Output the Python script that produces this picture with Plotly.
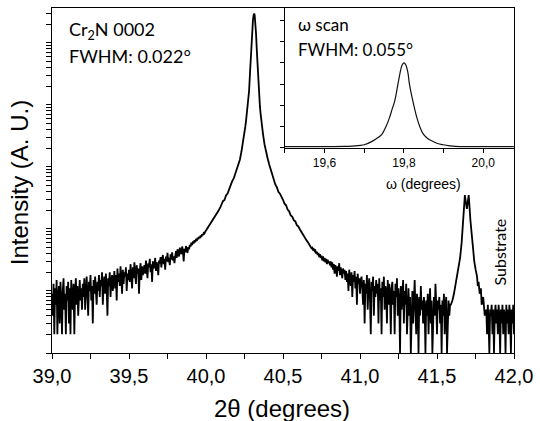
import numpy as np
import plotly.graph_objects as go

# ---- 2theta/omega scan (counts) ----
# noisy parts are on a 0.005 deg step, peaks listed point by point
step = 0.005

left_start = 39.00  # 39.00 .. 40.095
counts_left = [
    9, 4, 13, 2, 11, 6, 15, 2, 8, 12, 3, 14, 7, 2, 10, 16, 5, 9, 2, 12,
    7, 14, 3, 11, 2, 15, 8, 5, 13, 2, 10, 16, 6, 12, 4, 9, 15, 7, 11, 5,
    13, 8, 16, 5, 11, 17, 9, 4, 14, 10, 18, 7, 12, 3, 15, 9, 17, 11, 6, 14,
    10, 18, 8, 15, 12, 20, 6, 13, 17, 9, 19, 11, 4, 16, 12, 20, 8, 14, 18, 10,
    15, 21, 11, 18, 7, 23, 14, 19, 12, 25, 16, 9, 22, 13, 20, 17, 24, 10, 19, 15,
    22, 14, 27, 18, 11, 24, 16, 29, 20, 13, 26, 19, 23, 9, 21, 28, 15, 25, 18, 22,
    26, 19, 31, 22, 16, 28, 24, 33, 20, 27, 14, 30, 23, 26, 34, 21, 29, 25, 18, 31,
    28, 35, 24, 32, 38, 27, 33, 22, 36, 30, 41, 29, 34, 26, 39, 32, 42, 31, 36, 28,
    38, 44, 34, 47, 40, 36, 50, 43, 39, 52, 45, 30, 48, 42, 53, 46, 41, 51, 47, 55,
    52, 60, 55, 63, 58, 66, 61, 69, 64, 72, 68, 75, 71, 78, 74, 82, 79, 86, 84, 90,
    94, 98, 101, 106, 110, 116, 121, 127, 133, 140, 146, 154, 160, 170, 176, 186, 194, 205, 214, 228,
]

peak_tt = [40.10, 40.11, 40.12, 40.13, 40.14, 40.15, 40.16, 40.17, 40.18, 40.19,
           40.20, 40.21, 40.22, 40.23, 40.24, 40.245, 40.25, 40.255, 40.26, 40.265,
           40.27, 40.275, 40.28, 40.285, 40.29, 40.295, 40.30, 40.305, 40.31, 40.313,
           40.316, 40.32, 40.325, 40.33, 40.335, 40.34, 40.345, 40.35, 40.355, 40.36,
           40.365, 40.37, 40.38, 40.39, 40.40, 40.41, 40.42, 40.43, 40.44, 40.45,
           40.46, 40.47, 40.48, 40.49, 40.50, 40.51, 40.52, 40.53, 40.54, 40.55,
           40.56, 40.57, 40.58, 40.59, 40.60]
peak_counts = [245, 280, 292, 345, 372, 440, 490, 590, 650, 790,
               900, 1060, 1300, 1750, 2400, 2900, 3600, 4400, 5500, 7000,
               9000, 11700, 17000, 30000, 58000, 115000, 170000, 235000, 285000, 295000,
               280000, 225000, 140000, 75000, 40000, 22000, 13500, 9500, 7000, 5200,
               4200, 3400, 2300, 1700, 1380, 1100, 920, 730, 610, 520,
               470, 395, 370, 318, 295, 255, 240, 205, 192, 165,
               158, 138, 132, 115, 109]

mid_start = 40.61  # 40.61 .. 41.585
counts_mid = [
    98, 93, 90, 84, 82, 77, 75, 70, 68, 64, 62, 59, 57, 53, 52, 49, 50, 46, 47, 44,
    45, 40, 43, 38, 41, 35, 39, 34, 37, 31, 36, 30, 34, 29, 33, 27, 32, 28, 30, 26,
    30, 24, 29, 22, 27, 19, 26, 23, 17, 25, 21, 28, 18, 24, 20, 16, 23, 19, 22, 15,
    21, 14, 19, 10, 22, 16, 12, 20, 8, 18, 14, 21, 11, 17, 6, 19, 13, 16, 9, 15,
    17, 11, 6, 15, 3, 13, 9, 18, 5, 12, 16, 7, 2, 14, 10, 17, 4, 12, 8, 15,
    9, 13, 3, 16, 7, 11, 2, 14, 8, 17, 5, 12, 10, 3, 15, 6, 13, 9, 2, 11,
    14, 6, 10, 2, 13, 8, 16, 4, 11, 7, 1, 12, 5, 9, 15, 3, 10, 6, 13, 2,
    7, 11, 4, 8, 1, 6, 10, 3, 7, 15, 5, 2, 9, 6, 1, 8, 4, 12, 5, 7,
    3, 8, 5, 1, 7, 4, 9, 2, 6, 11, 3, 7, 1, 5, 8, 4, 13, 6, 2, 7,
    5, 8, 3, 6, 1, 7, 4, 9, 2, 6, 8, 1, 5, 7, 4, 6,
]

sub_tt = [41.59, 41.60, 41.61, 41.62, 41.63, 41.64, 41.65, 41.66, 41.67, 41.681,
          41.694, 41.706, 41.717, 41.725, 41.734, 41.742, 41.751, 41.76, 41.765, 41.77,
          41.777, 41.785, 41.79, 41.80, 41.81]
sub_counts = [6, 7, 9, 13, 17, 24, 34, 60, 138, 350,
              210, 350, 138, 80, 41, 30, 22, 17, 12, 14,
              9, 11, 6, 8, 4]

right_start = 41.82  # 41.82 .. 42.00
counts_right = [5, 2, 6, 3, 1, 5, 4, 6, 2, 5, 1, 4, 6, 3, 5, 2, 6, 4, 1, 5,
                3, 6, 2, 5, 4, 1, 6, 3, 5, 2, 6, 4, 1, 5, 3, 6, 2]

# ---- omega scan (inset), arbitrary units ----
omega = [19.50, 19.60, 19.65, 19.67, 19.70, 19.72, 19.735, 19.745, 19.755, 19.764,
         19.77, 19.777, 19.785, 19.79, 19.795, 19.80, 19.805, 19.81, 19.814, 19.8225,
         19.8325, 19.84, 19.849, 19.86, 19.87, 19.885, 19.899, 19.915, 19.93, 19.97,
         20.077]
omega_int = [0.05, 0.05, 0.06, 0.08, 0.14, 0.30, 0.48, 0.64, 1.0, 1.43,
             1.8, 2.21, 3.0, 3.5, 3.88, 4.0, 3.9, 3.55, 3.0, 2.21,
             1.43, 1.0, 0.64, 0.44, 0.33, 0.2, 0.14, 0.09, 0.06, 0.05,
             0.05]


def grid(start, n):
    return list(np.round(start + step * np.arange(n), 4))


tt = (grid(left_start, len(counts_left)) + peak_tt + grid(mid_start, len(counts_mid))
      + sub_tt + grid(right_start, len(counts_right)))
counts = counts_left + peak_counts + counts_mid + sub_counts + counts_right

ylog_ticks = [k * 10 ** n for n in range(0, 6) for k in range(1, 10) if k * 10 ** n < 3.7e5]

fig = go.Figure()
fig.add_trace(go.Scatter(x=tt, y=counts, mode="lines",
                         line=dict(color="black", width=1.8), showlegend=False))
fig.add_trace(go.Scatter(x=omega, y=omega_int, mode="lines", line_shape="spline",
                         line=dict(color="#111111", width=1.2), showlegend=False,
                         xaxis="x2", yaxis="y2"))

axfont = "Liberation Sans, Arial, sans-serif"
txtfont = "Lato, Open Sans, sans-serif"

fig.update_layout(
    width=540, height=421,
    margin=dict(l=52, r=22, t=7, b=68),
    paper_bgcolor="white", plot_bgcolor="white",
    separators=",.",
    font=dict(family=axfont, color="black"),
    xaxis=dict(range=[39, 42], dtick=0.5, tickformat=".1f", ticks="outside", ticklen=5,
               tickcolor="black", showline=True, linecolor="black", linewidth=1.3,
               mirror=True, showgrid=False, zeroline=False,
               tickfont=dict(size=20, family=axfont),
               minor=dict(tick0=39, dtick=0.25, ticks="outside", ticklen=5, tickcolor="black")),
    yaxis=dict(type="log", range=[0, 5.56], tickmode="array", tickvals=ylog_ticks,
               showticklabels=False, ticks="outside", ticklen=5, tickcolor="black",
               showline=True, linecolor="black", linewidth=1.3, mirror=True,
               showgrid=False, zeroline=False),
    xaxis2=dict(domain=[0.504, 1.0], anchor="y2", range=[19.5, 20.0775],
                tickmode="array", tickvals=[19.6, 19.8, 20.0], tickformat=".1f",
                ticks="outside", ticklen=4, tickcolor="black", showline=True,
                linecolor="black", linewidth=1.1, showgrid=False, zeroline=False,
                tickfont=dict(size=12, family=axfont),
                minor=dict(tick0=19.5, dtick=0.1, ticks="outside", ticklen=4, tickcolor="black")),
    yaxis2=dict(domain=[0.595, 1.0], anchor="x2", range=[0, 6.59], dtick=1,
                showticklabels=False, ticks="outside", ticklen=4, tickcolor="black",
                showline=True, linecolor="black", linewidth=1.1, showgrid=False,
                zeroline=False),
)

ann = [
    dict(x=0.032, y=0.936, text="Cr<sub>2</sub>N 0002", xanchor="left",
         font=dict(size=18, family=txtfont)),
    dict(x=0.032, y=0.861, text="FWHM: 0.022°", xanchor="left",
         font=dict(size=18, family=txtfont)),
    dict(x=0.528, y=0.952, text="ω scan", xanchor="left",
         font=dict(size=17, family=txtfont)),
    dict(x=0.528, y=0.879, text="FWHM: 0.055°", xanchor="left",
         font=dict(size=17, family=txtfont)),
    dict(x=0.968, y=0.292, text="Substrate", textangle=-90, xanchor="center",
         font=dict(size=16, family=txtfont)),
    dict(x=-0.07, y=0.494, text="Intensity (A. U.)", textangle=-90, xanchor="center",
         font=dict(size=24, family=axfont)),
    dict(x=0.498, y=-0.162, text="2θ (degrees)", xanchor="center",
         font=dict(size=24, family=axfont)),
    dict(x=0.805, y=0.491, text="ω (degrees)", xanchor="center",
         font=dict(size=14, family=axfont)),
]
for a in ann:
    fig.add_annotation(xref="paper", yref="paper", showarrow=False, yanchor="middle", **a)

fig.write_html("out.html", config={"displayModeBar": False},
               post_script="document.body.style.margin='0';")
